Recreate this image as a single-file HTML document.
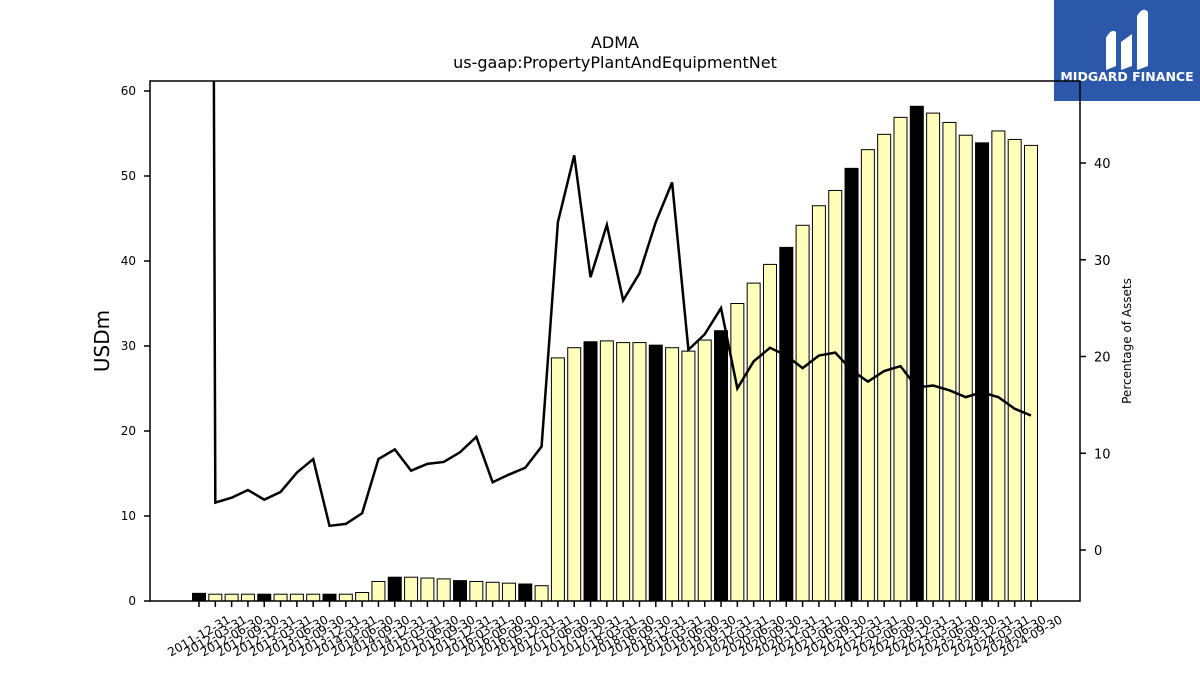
<!DOCTYPE html>
<html><head><meta charset="utf-8"><style>
body{margin:0;background:#fff;}
svg{display:block;font-family:"DejaVu Sans","Liberation Sans",sans-serif;}
</style></head><body>
<svg id="chart" width="1200" height="675" viewBox="0 0 1200 675">
<text x="615" y="48" font-size="16" text-anchor="middle">ADMA</text>
<text x="615" y="68" font-size="16" text-anchor="middle">us-gaap:PropertyPlantAndEquipmentNet</text>
<g>
<rect x="1054" y="0" width="146" height="101" fill="#2b58a8"/>
<path d="M1106 70 L1106 38 Q1111 28 1116 32 L1116 66 Z M1121 70 L1121 42 L1132 34 L1132 66 Z M1137 70 L1137 16 Q1143 6 1148 12 L1148 66 Z" fill="#fff"/>
<text x="1127" y="81" font-size="12.5" font-weight="bold" fill="#fff" text-anchor="middle">MIDGARD FINANCE</text>
</g>
<g id="plot"></g>
<text x="0" y="0" font-size="20" text-anchor="middle" transform="translate(109,341) rotate(-90)">USDm</text>
<text x="0" y="0" font-size="12" text-anchor="middle" transform="translate(1131,341) rotate(-90)">Percentage of Assets</text>
</svg>
<script>
const dates = ["2011-12-31","2012-03-31","2012-06-30","2012-09-30","2012-12-31","2013-03-31","2013-06-30","2013-09-30","2013-12-31","2014-03-31","2014-06-30","2014-09-30","2014-12-31","2015-03-31","2015-06-30","2015-09-30","2015-12-31","2016-03-31","2016-06-30","2016-09-30","2016-12-31","2017-03-31","2017-06-30","2017-09-30","2017-12-31","2018-03-31","2018-06-30","2018-09-30","2018-12-31","2019-03-31","2019-06-30","2019-09-30","2019-12-31","2020-03-31","2020-06-30","2020-09-30","2020-12-31","2021-03-31","2021-06-30","2021-09-30","2021-12-31","2022-03-31","2022-06-30","2022-09-30","2022-12-31","2023-03-31","2023-06-30","2023-09-30","2023-12-31","2024-03-31","2024-06-30","2024-09-30"];
const ppe = [0.9,0.8,0.8,0.8,0.8,0.8,0.8,0.8,0.8,0.8,1.0,2.3,2.8,2.8,2.7,2.6,2.4,2.3,2.2,2.1,2.0,1.8,28.6,29.8,30.5,30.6,30.4,30.4,30.1,29.8,29.4,30.7,31.8,35.0,37.4,39.6,41.6,44.2,46.5,48.3,50.9,53.1,54.9,56.9,58.2,57.4,56.3,54.8,53.9,55.3,54.3,53.6];
const pct = [500,4.9,5.4,6.2,5.2,6.0,8.0,9.4,2.5,2.7,3.8,9.4,10.4,8.2,8.9,9.1,10.1,11.7,7.0,7.8,8.5,10.7,33.9,40.8,28.2,33.6,25.8,28.6,33.9,38.0,20.7,22.3,25.0,16.7,19.5,20.9,20.1,18.8,20.1,20.4,18.6,17.4,18.5,19.0,16.8,17.0,16.5,15.8,16.3,15.8,14.6,13.9];
const leftTicks = [0,10,20,30,40,50,60];
const rightTicks = [0,10,20,30,40];

const NS="http://www.w3.org/2000/svg";
const L=150,R=1080,T=81,B=601;
const x0=199,dx=(1031-199)/51;
const xs=i=>x0+i*dx;
const yL=v=>601-v*8.5;
const yR=v=>550-v*9.675;
const plot=document.getElementById('plot');
function mk(tag,at){const e=document.createElementNS(NS,tag);for(const k in at)e.setAttribute(k,at[k]);plot.appendChild(e);return e;}
const clip=mk('clipPath',{id:'pc'});
const cr=document.createElementNS(NS,'rect');cr.setAttribute('x',L);cr.setAttribute('y',T);cr.setAttribute('width',R-L);cr.setAttribute('height',B-T);clip.appendChild(cr);
ppe.forEach((v,i)=>{
  const yr=dates[i].endsWith('12-31');
  const b=mk('rect',{x:xs(i)-6.5,y:yL(v),width:13,height:yL(0)-yL(v),fill:yr?'#000':'#ffffbb',stroke:'#000','stroke-width':1});
  
  
  const t=mk('line',{x1:xs(i),x2:xs(i),y1:B,y2:B+6,stroke:'#000','stroke-width':1.5});
  
  
  const lb=mk('text',{x:0,y:4,'font-size':12,'text-anchor':'middle',transform:`translate(${xs(i)},${B+35}) rotate(-30)`});
  lb.textContent=dates[i];
  
  
});
const line=mk('polyline',{points:pct.map((v,i)=>xs(i)+','+yR(v)).join(' '),fill:'none',stroke:'#000','stroke-width':2.5,'clip-path':'url(#pc)'});


leftTicks.forEach(v=>{
  const t=mk('line',{x1:L-6,x2:L,y1:yL(v),y2:yL(v),stroke:'#000','stroke-width':1.5});
  
  
  const lb=mk('text',{x:L-14,y:yL(v)+4,'font-size':12,'text-anchor':'end'});
  lb.textContent=v;
  
  
});
rightTicks.forEach(v=>{
  const t=mk('line',{x1:R,x2:R+6,y1:yR(v),y2:yR(v),stroke:'#000','stroke-width':1.5});
  
  
  const lb=mk('text',{x:R+14,y:yR(v)+5,'font-size':13});
  lb.textContent=v;
  
  
});
const fr=mk('rect',{x:L,y:T,width:R-L,height:B-T,fill:'none',stroke:'#000','stroke-width':1.5});


</script>
</body></html>
